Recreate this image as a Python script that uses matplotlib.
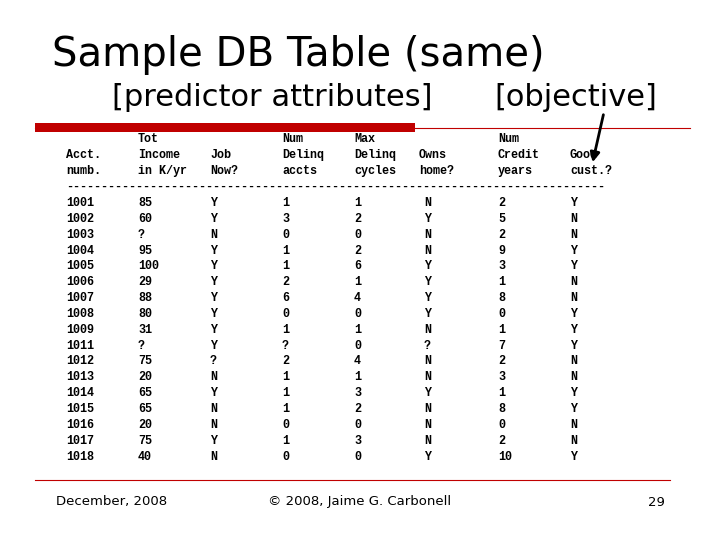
import matplotlib
matplotlib.use("Agg")
import matplotlib.pyplot as plt

header1 = ["", "Tot", "", "Num", "Max", "", "Num", ""]
header2 = ["Acct.", "Income", "Job", "Delinq", "Delinq", "Owns", "Credit", "Good"]
header3 = ["numb.", "in K/yr", "Now?", "accts", "cycles", "home?", "years", "cust.?"]

acct = ["1001", "1002", "1003", "1004", "1005", "1006", "1007", "1008", "1009",
        "1011", "1012", "1013", "1014", "1015", "1016", "1017", "1018"]
income = ["85", "60", "?", "95", "100", "29", "88", "80", "31", "?", "75", "20", "65", "65", "20", "75", "40"]
job = ["Y", "Y", "N", "Y", "Y", "Y", "Y", "Y", "Y", "Y", "?", "N", "Y", "N", "N", "Y", "N"]
num_delinq = ["1", "3", "0", "1", "1", "2", "6", "0", "1", "?", "2", "1", "1", "1", "0", "1", "0"]
max_delinq = ["1", "2", "0", "2", "6", "1", "4", "0", "1", "0", "4", "1", "3", "2", "0", "3", "0"]
owns_home = ["N", "Y", "N", "N", "Y", "Y", "Y", "Y", "N", "?", "N", "N", "Y", "N", "N", "N", "Y"]
credit_years = ["2", "5", "2", "9", "3", "1", "8", "0", "1", "7", "2", "3", "1", "8", "0", "2", "10"]
good_cust = ["Y", "N", "N", "Y", "Y", "N", "N", "Y", "Y", "Y", "N", "N", "Y", "Y", "N", "N", "Y"]

columns = [acct, income, job, num_delinq, max_delinq, owns_home, credit_years, good_cust]
col_x = [66, 138, 210, 282, 354, 419, 498, 570]
data_x = [66, 138, 210, 282, 354, 424, 498, 570]

fig = plt.figure(figsize=(7.2, 5.4), dpi=100)
ax = fig.add_axes([0, 0, 1, 1])
ax.set_xlim(0, 720)
ax.set_ylim(540, 0)
ax.axis("off")

# title and subtitles
ax.text(52, 55, "Sample DB Table (same)", fontsize=29, va="center", ha="left")
ax.text(112, 98, "[predictor attributes]", fontsize=22, va="center", ha="left")
ax.text(494, 98, "[objective]", fontsize=22, va="center", ha="left")

# red rule under title
ax.plot([35, 690], [128, 128], color="#c00000", lw=0.8)
ax.fill_between([35, 415], 123, 132, color="#c00000", lw=0)

# arrow to objective column
ax.annotate("", xy=(592, 165), xytext=(604, 112),
            arrowprops=dict(arrowstyle="-|>", color="black", lw=2, mutation_scale=14))

mono = dict(family="Liberation Mono", fontsize=8.5, va="center", ha="left", weight="bold")
for x, h1, h2, h3 in zip(col_x, header1, header2, header3):
    ax.text(x, 139, h1, **mono)
    ax.text(x, 155, h2, **mono)
    ax.text(x, 171, h3, **mono)
ax.text(66, 187, "-" * 77, **mono)

row_y0, row_dy = 203, 15.85
for x, col in zip(data_x, columns):
    for i, v in enumerate(col):
        ax.text(x, row_y0 + i * row_dy, v, **mono)

# footer
ax.plot([35, 670], [480, 480], color="#c00000", lw=0.8)
ax.text(56, 502, "December, 2008", fontsize=9.5, va="center", ha="left")
ax.text(360, 502, "\u00a9 2008, Jaime G. Carbonell", fontsize=9.5, va="center", ha="center")
ax.text(665, 502, "29", fontsize=9.5, va="center", ha="right")

fig.savefig("out.png", dpi=100)
